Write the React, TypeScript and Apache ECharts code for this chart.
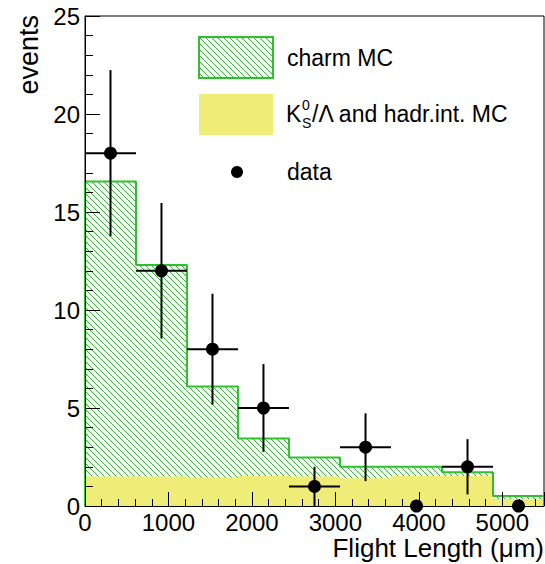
import React, { useEffect, useRef } from 'react';
import * as echarts from 'echarts';

// Bin edges in micrometres (9 bins)
const binEdges = [0, 611, 1222, 1833, 2444, 3056, 3667, 4278, 4889, 5500];
// Top of the stacked MC (charm MC stacked on K0S/Lambda + hadr.int. MC)
const mcTotal = [16.55, 12.3, 6.1, 3.45, 2.47, 2.0, 2.0, 1.72, 0.51];
// K0S/Lambda and hadronic interaction MC
const bgMC = [1.5, 1.5, 1.45, 1.53, 1.5, 1.41, 1.53, 1.53, 0.36];
// Data counts and their errors
const dataCounts = [18, 12, 8, 5, 1, 3, 0, 2, 0];
const dataErrors = [4.24, 3.46, 2.83, 2.24, 1.0, 1.73, 0, 1.41, 0];

const GREEN = '#2fbf2f';
const YELLOW = '#f0ec78';
const FONT = '"Liberation Sans", Arial, Helvetica, sans-serif';

function makeHatch(): HTMLCanvasElement {
  const c = document.createElement('canvas');
  c.width = 6;
  c.height = 6;
  const ctx = c.getContext('2d')!;
  ctx.fillStyle = '#ffffff';
  ctx.fillRect(0, 0, 6, 6);
  ctx.strokeStyle = GREEN;
  ctx.lineWidth = 1;
  ctx.beginPath();
  ctx.moveTo(-1, -1);
  ctx.lineTo(7, 7);
  ctx.stroke();
  return c;
}

export default function App() {
  const ref = useRef<HTMLDivElement>(null);
  useEffect(() => {
    if (!ref.current) return;
    const chart = echarts.init(ref.current, undefined, { renderer: 'svg' });
    const hatchCanvas = makeHatch();
    const hatch: any = { image: hatchCanvas, repeat: 'repeat', imageWidth: 6, imageHeight: 6 };

    const bins = binEdges.slice(0, -1).map((e, i) => ({ lo: e, hi: binEdges[i + 1] }));
    const totalData = bins.map((b, i) => [b.lo, b.hi, mcTotal[i]]);
    const bgData = bins.map((b, i) => [b.lo, b.hi, bgMC[i]]);
    const outline: number[][] = [[binEdges[0], 0]];
    bins.forEach((b, i) => {
      outline.push([b.lo, mcTotal[i]], [b.hi, mcTotal[i]]);
    });
    outline.push([binEdges[binEdges.length - 1], 0]);
    const points = bins.map((b, i) => [(b.lo + b.hi) / 2, dataCounts[i]]);
    const errData = bins.map((b, i) => [b.lo, b.hi, dataCounts[i], dataErrors[i]]);

    const rectRender = (fill: any) => (params: any, api: any) => {
      const x0 = api.value(0);
      const x1 = api.value(1);
      const h = api.value(2);
      const p0 = api.coord([x0, h]);
      const p1 = api.coord([x1, 0]);
      return {
        type: 'rect',
        shape: { x: p0[0], y: p0[1], width: p1[0] - p0[0], height: p1[1] - p0[1] },
        style: { fill },
      };
    };

    const option: any = {
      animation: false,
      grid: {
        left: 85,
        right: 1,
        top: 16,
        bottom: 58,
        show: true,
        borderColor: '#000',
        borderWidth: 1,
        backgroundColor: 'transparent',
      },
      xAxis: {
        type: 'value',
        min: 0,
        max: 5500,
        interval: 1000,
        z: 6,
        axisLine: { show: true, lineStyle: { color: '#000', width: 1 } },
        axisTick: { show: true, inside: true, length: 14, lineStyle: { color: '#000', width: 1 } },
        minorTick: { show: true, splitNumber: 5, length: 7, lineStyle: { color: '#000', width: 1 } },
        splitLine: { show: false },
        axisLabel: {
          color: '#000',
          fontSize: 24,
          fontFamily: FONT,
          margin: 4,
          showMaxLabel: false,
          formatter: (v: number) => String(v),
        },
      },
      yAxis: {
        type: 'value',
        min: 0,
        max: 25,
        interval: 5,
        z: 6,
        axisLine: { show: true, lineStyle: { color: '#000', width: 1 } },
        axisTick: { show: true, inside: true, length: 15, lineStyle: { color: '#000', width: 1 } },
        minorTick: { show: true, splitNumber: 5, length: 8, lineStyle: { color: '#000', width: 1 } },
        splitLine: { show: false },
        axisLabel: {
          color: '#000',
          fontSize: 24,
          fontFamily: FONT,
          margin: 5,
          formatter: (v: number) => String(v),
        },
      },
      series: [
        {
          type: 'custom',
          name: 'charm MC',
          z: 1,
          renderItem: rectRender(hatch),
          data: totalData,
          encode: { x: [0, 1], y: 2 },
        },
        {
          type: 'custom',
          name: 'K0S/Lambda and hadr.int. MC',
          z: 2,
          renderItem: rectRender(YELLOW),
          data: bgData,
          encode: { x: [0, 1], y: 2 },
        },
        {
          type: 'line',
          z: 3,
          data: outline,
          showSymbol: false,
          symbol: 'none',
          lineStyle: { color: GREEN, width: 2 },
        },
        {
          type: 'custom',
          name: 'errors',
          z: 4,
          clip: false,
          renderItem: (params: any, api: any) => {
            const x0 = api.value(0);
            const x1 = api.value(1);
            const y = api.value(2);
            const e = api.value(3);
            if (!e) return { type: 'group', children: [] };
            const xc = (x0 + x1) / 2;
            const a = api.coord([x0, y]);
            const b = api.coord([x1, y]);
            const t = api.coord([xc, y + e]);
            const d = api.coord([xc, y - e]);
            const ls = { stroke: '#000', lineWidth: 2 };
            return {
              type: 'group',
              children: [
                { type: 'line', shape: { x1: a[0], y1: a[1], x2: b[0], y2: b[1] }, style: ls },
                { type: 'line', shape: { x1: t[0], y1: t[1], x2: d[0], y2: d[1] }, style: ls },
              ],
            };
          },
          data: errData,
          encode: { x: [0, 1], y: 2 },
        },
        {
          type: 'scatter',
          name: 'data',
          z: 5,
          clip: false,
          symbol: 'circle',
          symbolSize: 13,
          itemStyle: { color: '#000', opacity: 1 },
          data: points,
        },
      ],
      graphic: [
        {
          type: 'text',
          x: 544,
          y: 548,
          style: { text: 'Flight Length (\u03bcm)', font: `26px ${FONT}`, fill: '#000', align: 'right', verticalAlign: 'middle' },
        },
        {
          type: 'text',
          x: 29,
          y: 15,
          rotation: Math.PI / 2,
          style: { text: 'events', font: `27px ${FONT}`, fill: '#000', align: 'right', verticalAlign: 'middle' },
        },
        // legend
        {
          type: 'rect',
          shape: { x: 199, y: 37, width: 74, height: 41 },
          style: { fill: hatch, stroke: GREEN, lineWidth: 2 },
        },
        {
          type: 'text',
          x: 287,
          y: 58,
          style: { text: 'charm MC', font: `23px ${FONT}`, fill: '#000', align: 'left', verticalAlign: 'middle' },
        },
        {
          type: 'rect',
          shape: { x: 199, y: 94, width: 74, height: 41 },
          style: { fill: YELLOW },
        },
        {
          type: 'text',
          x: 286,
          y: 114,
          style: { text: 'K', font: `23px ${FONT}`, fill: '#000', align: 'left', verticalAlign: 'middle' },
        },
        {
          type: 'text',
          x: 302,
          y: 105,
          style: { text: '0', font: `14px ${FONT}`, fill: '#000', align: 'left', verticalAlign: 'middle' },
        },
        {
          type: 'text',
          x: 302,
          y: 123,
          style: { text: 'S', font: `14px ${FONT}`, fill: '#000', align: 'left', verticalAlign: 'middle' },
        },
        {
          type: 'text',
          x: 312,
          y: 114,
          style: { text: '/\u039b and hadr.int. MC', font: `23px ${FONT}`, fill: '#000', align: 'left', verticalAlign: 'middle' },
        },
        {
          type: 'circle',
          shape: { cx: 237, cy: 172, r: 6 },
          style: { fill: '#000' },
        },
        {
          type: 'text',
          x: 287,
          y: 172,
          style: { text: 'data', font: `23px ${FONT}`, fill: '#000', align: 'left', verticalAlign: 'middle' },
        },
      ],
    };
    chart.setOption(option);
    return () => chart.dispose();
  }, []);
  return (
    <div
      ref={ref}
      style={{ position: 'fixed', left: 0, top: 0, width: 545, height: 564, background: '#fff' }}
    />
  );
}
